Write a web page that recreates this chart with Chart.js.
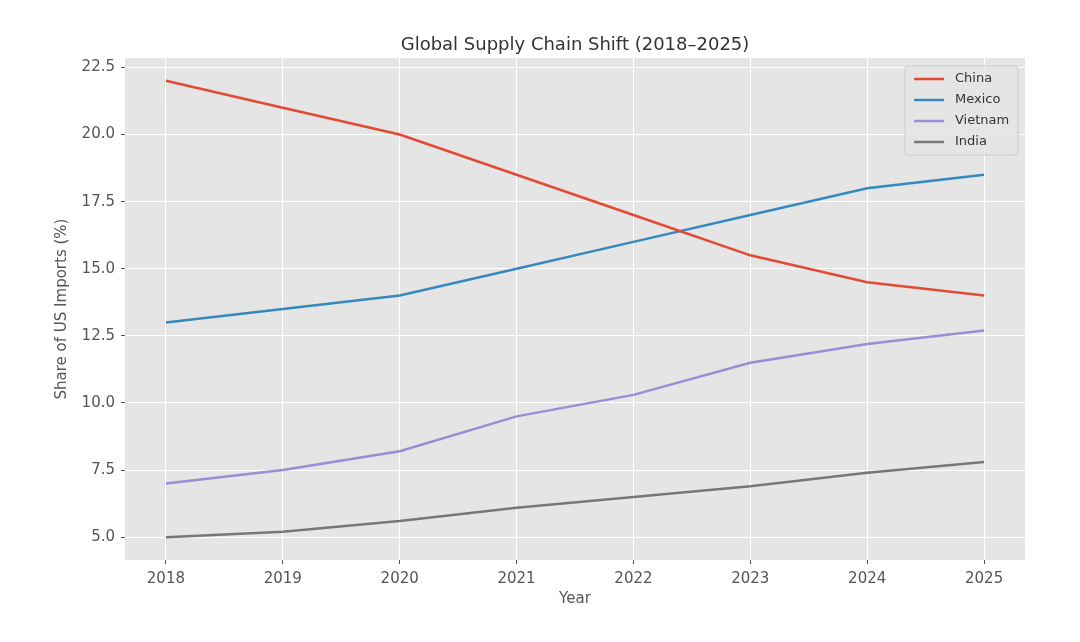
<!DOCTYPE html>
<html>
<head>
<meta charset="utf-8">
<script src="https://cdn.jsdelivr.net/npm/chart.js@4/dist/chart.umd.min.js"></script>
<style>
  html, body { margin: 0; padding: 0; background: #fff; }
  #wrap { width: 1080px; height: 642px; }
</style>
</head>
<body>
<div id="wrap"><canvas id="c"></canvas></div>
<script>
var years = [2018, 2019, 2020, 2021, 2022, 2023, 2024, 2025];
var china = [22, 21, 20, 18.5, 17, 15.5, 14.5, 14];
var mexico = [13, 13.5, 14, 15, 16, 17, 18, 18.5];
var vietnam = [7, 7.5, 8.2, 9.5, 10.3, 11.5, 12.2, 12.7];
var india = [5.0, 5.2, 5.6, 6.1, 6.5, 6.9, 7.4, 7.8];
var yTicks = [5, 7.5, 10, 12.5, 15, 17.5, 20, 22.5];

var FONT = "'DejaVu Sans', sans-serif";

function pts(vals) {
  return vals.map(function(v, i) { return { x: years[i], y: v }; });
}
function series(label, vals, color) {
  return { label: label, data: pts(vals), borderColor: color, backgroundColor: color,
           borderWidth: 2.5, pointRadius: 0, tension: 0 };
}

// plot background, titles and the legend box inside the plot
var decor = {
  id: 'decor',
  beforeDraw: function(chart) {
    var a = chart.chartArea, ctx = chart.ctx;
    ctx.save();
    ctx.fillStyle = '#e5e5e5';
    ctx.fillRect(a.left, a.top, a.right - a.left, a.bottom - a.top);
    ctx.restore();
  },
  afterDraw: function(chart) {
    var a = chart.chartArea, ctx = chart.ctx;
    ctx.save();
    ctx.fillStyle = '#333';
    ctx.font = '18px ' + FONT;
    ctx.textAlign = 'center';
    ctx.textBaseline = 'middle';
    ctx.fillText('Global Supply Chain Shift (2018\u20132025)', (a.left + a.right) / 2, 45);

    ctx.fillStyle = '#555';
    ctx.font = '15px ' + FONT;
    ctx.fillText('Year', (a.left + a.right) / 2, 599);
    ctx.save();
    ctx.translate(62, (a.top + a.bottom) / 2);
    ctx.rotate(-Math.PI / 2);
    ctx.fillText('Share of US Imports (%)', 0, 0);
    ctx.restore();

    var bx = 905, by = 66, bw = 113, bh = 89;
    ctx.fillStyle = 'rgba(229,229,229,0.85)';
    ctx.strokeStyle = '#cccccc';
    ctx.lineWidth = 1;
    ctx.beginPath();
    ctx.roundRect(bx, by, bw, bh, 3);
    ctx.fill();
    ctx.stroke();
    ctx.font = '13px ' + FONT;
    ctx.textAlign = 'left';
    chart.data.datasets.forEach(function(ds, i) {
      var y = 79 + i * 21;
      ctx.strokeStyle = ds.borderColor;
      ctx.lineWidth = 2.5;
      ctx.beginPath();
      ctx.moveTo(914, y);
      ctx.lineTo(944, y);
      ctx.stroke();
      ctx.fillStyle = '#333';
      ctx.fillText(ds.label, 955, y);
    });
    ctx.restore();
  }
};

new Chart(document.getElementById('c'), {
  type: 'line',
  data: {
    datasets: [
      series('China', china, '#E24A33'),
      series('Mexico', mexico, '#348ABD'),
      series('Vietnam', vietnam, '#988ED5'),
      series('India', india, '#777777')
    ]
  },
  options: {
    responsive: true,
    maintainAspectRatio: false,
    animation: false,
    layout: { padding: { top: 58, right: 55, left: 0, bottom: 0 } },
    plugins: { legend: { display: false }, tooltip: { enabled: false } },
    scales: {
      x: {
        type: 'linear',
        min: 2017.65, max: 2025.35,
        afterBuildTicks: function(s) { s.ticks = years.map(function(v) { return { value: v }; }); },
        afterFit: function(s) { s.height = 82; },
        ticks: { color: '#555', font: { family: FONT, size: 15 }, padding: 6,
                 callback: function(v) { return String(v); } },
        grid: { color: '#ffffff', lineWidth: 1, drawTicks: true, tickLength: 4, tickColor: '#555' },
        border: { display: false }
      },
      y: {
        min: 4.15, max: 22.85,
        afterBuildTicks: function(s) { s.ticks = yTicks.map(function(v) { return { value: v }; }); },
        afterFit: function(s) { s.width = 125; },
        ticks: { color: '#555', font: { family: FONT, size: 15 }, padding: 6,
                 callback: function(v) { return v.toFixed(1); } },
        grid: { color: '#ffffff', lineWidth: 1, drawTicks: true, tickLength: 4, tickColor: '#555' },
        border: { display: false }
      }
    }
  },
  plugins: [decor]
});
</script>
</body>
</html>
